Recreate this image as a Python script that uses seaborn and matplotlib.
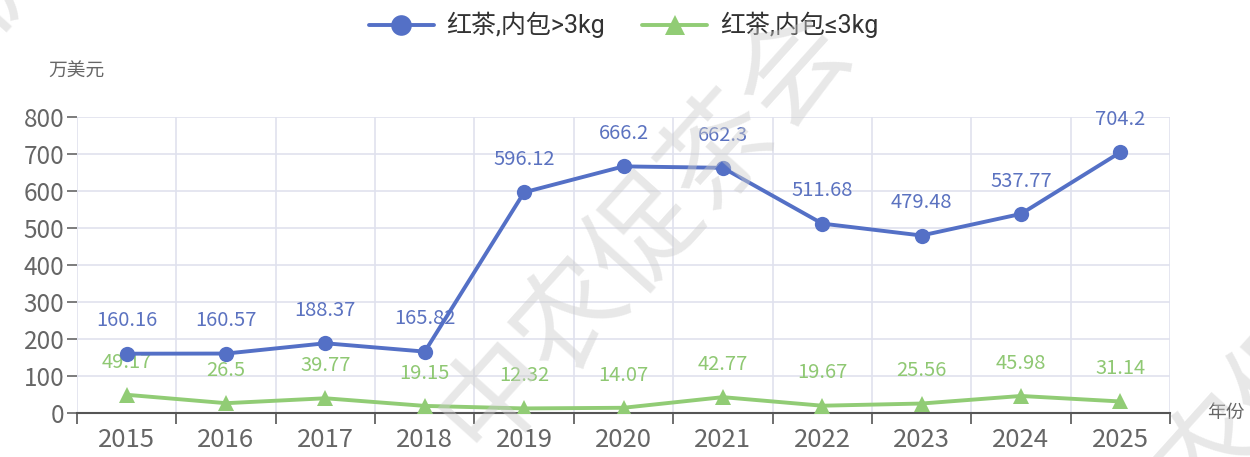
import pandas as pd
import seaborn as sns
import matplotlib.pyplot as plt

# 数据
years = ['2015', '2016', '2017', '2018', '2019', '2020', '2021', '2022', '2023', '2024', '2025']
big_pack = [160.16, 160.57, 188.37, 165.82, 596.12, 666.2, 662.3, 511.68, 479.48, 537.77, 704.2]
small_pack = [49.17, 26.5, 39.77, 19.15, 12.32, 14.07, 42.77, 19.67, 25.56, 45.98, 31.14]
name_big = '红茶,内包>3kg'
name_small = '红茶,内包≤3kg'
y_ticks = [0, 100, 200, 300, 400, 500, 600, 700, 800]

blue = '#5470c6'
green = '#91cc75'

sns.set_theme(style='white')
plt.rcParams['font.family'] = ['Noto Sans CJK SC', 'DejaVu Sans']

df = pd.DataFrame({'x': range(len(years)), 'big': big_pack, 'small': small_pack})

fig = plt.figure(figsize=(12.5, 4.57), dpi=100)
ax = fig.add_axes([0.0616, 0.0963, 0.8744, 0.648])

sns.lineplot(data=df, x='x', y='big', ax=ax, color=blue, linewidth=2.8,
             marker='o', markersize=11, markeredgewidth=0, label=name_big, zorder=4)
sns.lineplot(data=df, x='x', y='small', ax=ax, color=green, linewidth=2.8,
             marker='^', markersize=11, markeredgewidth=0, label=name_small, zorder=3)

# 数据标签
for i, v in enumerate(big_pack):
    ax.annotate(f'{v:g}', (i, v), xytext=(0, 16), textcoords='offset points',
                ha='center', va='bottom', fontsize=14.5, color='#5b72c0')
for i, v in enumerate(small_pack):
    ax.annotate(f'{v:g}', (i, v), xytext=(0, 16), textcoords='offset points',
                ha='center', va='bottom', fontsize=14.5, color='#8fc873')

# 坐标轴
ax.set_xlim(-0.5, len(years) - 0.5)
ax.set_ylim(0, 800)
ax.set_yticks(y_ticks)
ax.set_xticks([i - 0.5 for i in range(len(years) + 1)])
ax.set_xticklabels([])
ax.set_xticks(range(len(years)), minor=True)
ax.set_xticklabels(years, minor=True)
ax.tick_params(axis='x', which='major', length=8, width=1.2, color='#555555', direction='out', bottom=True)
ax.tick_params(axis='x', which='minor', length=0, labelsize=18.5, labelcolor='#666666', pad=10)
ax.tick_params(axis='y', length=7, width=1.2, color='#666666', labelsize=17.5, labelcolor='#666666', left=True, pad=2)
ax.grid(True, which='major', color='#e0e2ee', linewidth=1.2)
ax.set_axisbelow(True)
for s in ['top', 'right', 'left']:
    ax.spines[s].set_visible(False)
ax.spines['bottom'].set_color('#555555')
ax.spines['bottom'].set_linewidth(1.5)
ax.set_xlabel('')
ax.set_ylabel('')

fig.text(0.061, 0.845, '万美元', ha='center', va='center', fontsize=13.5, color='#666666')
fig.text(0.981, 0.098, '年份', ha='center', va='center', fontsize=13.5, color='#666666')

leg = ax.legend(loc='upper center', bbox_to_anchor=(0.5, 1.43), ncol=2, frameon=False,
                handlelength=2.6, columnspacing=1.5, handletextpad=0.5,
                markerscale=1.35, labelcolor='#333333',
                prop={'family': ['Roboto', 'Noto Sans CJK SC'], 'size': 18})

# 水印
for x, y in [(0.515, 0.5), (1.03, 0.2), (0.0, 1.07)]:
    fig.text(x, y, '中农促茶会', rotation=48, fontsize=80, color='#cccccc', alpha=0.45,
             ha='center', va='center', zorder=10)

fig.savefig('out.png', dpi=100)
